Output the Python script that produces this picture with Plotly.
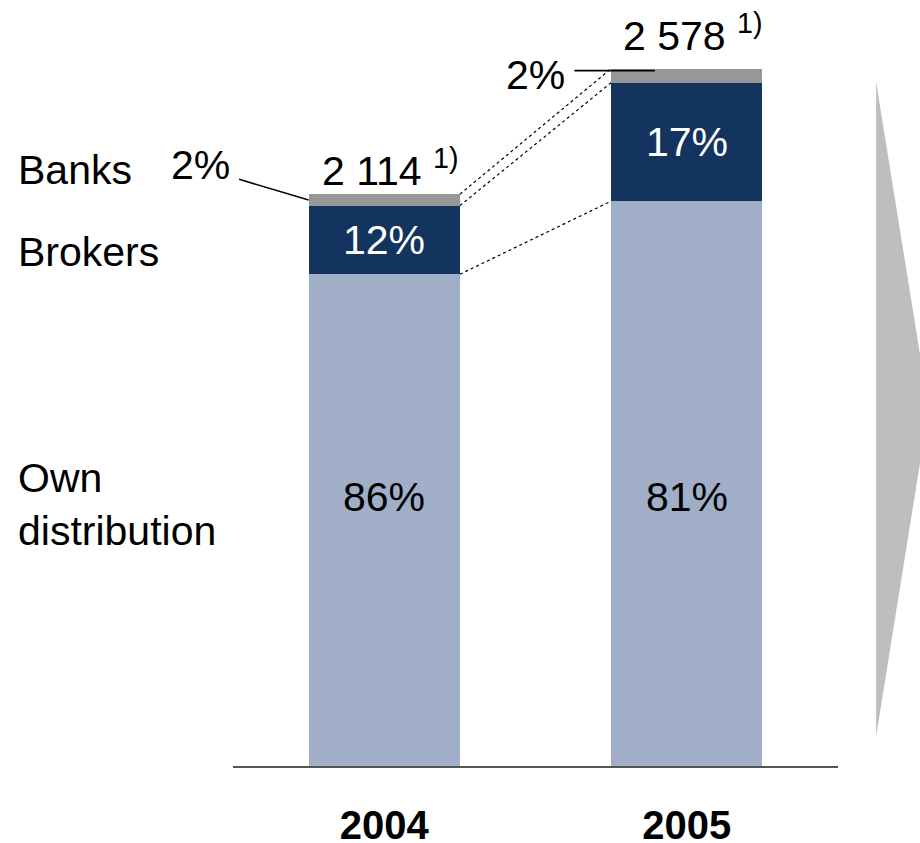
import plotly.graph_objects as go

# --- data -------------------------------------------------------------
years = ["2004", "2005"]
totals = [2114, 2578]
own_pct = [86, 81]
brokers_pct = [12, 17]
banks_pct = [2, 2]
channels = ["Own distribution", "Brokers", "Banks"]

own_val = [t * p / 100 for t, p in zip(totals, own_pct)]
brokers_val = [t * p / 100 for t, p in zip(totals, brokers_pct)]
banks_val = [t * p / 100 for t, p in zip(totals, banks_pct)]

C_OWN = "#A1AEC8"
C_BROKERS = "#12345F"
C_BANKS = "#979797"
FONT = "Liberation Sans, Arial, sans-serif"
FS = 41
BAR_W = 0.5

xs = [0, 1]
fig = go.Figure()
for name, vals, col in [("Own distribution", own_val, C_OWN),
                        ("Brokers", brokers_val, C_BROKERS),
                        ("Banks", banks_val, C_BANKS)]:
    fig.add_trace(go.Bar(x=xs, y=vals, name=name, marker_color=col,
                         marker_line_width=0, width=BAR_W, hoverinfo="skip"))

ann = []
for i in range(2):
    # broker share labels inside the dark segments
    ann.append(dict(x=xs[i], y=own_val[i] + brokers_val[i] / 2, xref="x", yref="y",
                    text=f"{brokers_pct[i]}%", showarrow=False,
                    font=dict(size=FS, color="white", family=FONT)))
    # own distribution share, both at the same height
    ann.append(dict(x=xs[i], y=0.36, xref="x", yref="paper", yanchor="middle",
                    text=f"{own_pct[i]}%", showarrow=False,
                    font=dict(size=FS, color="black", family=FONT)))
    # totals with footnote marker
    tot = f"{totals[i]:,}".replace(",", " ")
    ann.append(dict(x=xs[i], y=totals[i], xref="x", yref="y", yanchor="middle",
                    yshift=[26, 36][i], xshift=6,
                    text=f"{tot} <sup>1)</sup>", showarrow=False,
                    font=dict(size=FS, color="black", family=FONT)))

# banks share labels with leader lines
banks_mid = [own_val[i] + brokers_val[i] + banks_val[i] / 2 for i in range(2)]
ann.append(dict(x=xs[0] - BAR_W / 2, y=banks_mid[0], xref="x", yref="y",
                text="", showarrow=True, arrowhead=0, arrowwidth=1.6,
                arrowcolor="black", ax=-71, ay=-21))
ann.append(dict(x=-0.002, y=0.806, xref="paper", yref="paper",
                xanchor="right", yanchor="middle",
                text=f"{banks_pct[0]}%", showarrow=False,
                font=dict(size=FS, color="black", family=FONT)))
ann.append(dict(x=xs[1] - BAR_W / 2 + 0.145, y=banks_mid[1], xref="x", yref="y",
                yshift=5, text="", showarrow=True, arrowhead=0, arrowwidth=1.6,
                arrowcolor="black", ax=-82, ay=0))
ann.append(dict(x=0.552, y=0.926, xref="paper", yref="paper",
                xanchor="right", yanchor="middle",
                text=f"{banks_pct[1]}%", showarrow=False,
                font=dict(size=FS, color="black", family=FONT)))

# channel legend on the left
for text, yp in [("Banks", 0.799), ("Brokers", 0.689), ("Own<br>distribution", 0.351)]:
    ann.append(dict(x=-0.3587, y=yp, xref="paper", yref="paper",
                    xanchor="left", yanchor="middle",
                    align="left", text=text, showarrow=False,
                    font=dict(size=FS, color="black", family=FONT)))

shapes = []
# dotted connectors between the two bars
cum04 = [own_val[0], own_val[0] + brokers_val[0], totals[0]]
cum05 = [own_val[1], own_val[1] + brokers_val[1], totals[1]]
for a, b in zip(cum04, cum05):
    shapes.append(dict(type="line", xref="x", yref="y",
                       x0=xs[0] + BAR_W / 2, y0=a, x1=xs[1] - BAR_W / 2, y1=b,
                       line=dict(color="black", width=1.2, dash="dot")))

# grey arrow on the right
shapes.append(dict(type="path", xref="paper", yref="paper",
                   path="M 1.063,0.917 L 1.150,0.479 L 1.063,0.040 Z",
                   fillcolor="#BEBEBE", line=dict(width=0), layer="below"))

fig.update_layout(
    barmode="stack",
    width=920, height=843,
    margin=dict(l=233, r=82, t=20, b=77, autoexpand=False),
    plot_bgcolor="white", paper_bgcolor="white",
    showlegend=False,
    annotations=ann, shapes=shapes,
    xaxis=dict(range=[-0.5, 1.5], tickvals=xs, ticktext=years,
               showgrid=False, zeroline=False, showline=True,
               linecolor="#555555", linewidth=1.5, ticks="",
               automargin=False, ticklabelstandoff=23,
               tickfont=dict(size=40, color="black", family=FONT, weight="bold")),
    yaxis=dict(range=[0, 2758], visible=False, showgrid=False, zeroline=False,
               automargin=False),
)

fig.write_html("out.html")
